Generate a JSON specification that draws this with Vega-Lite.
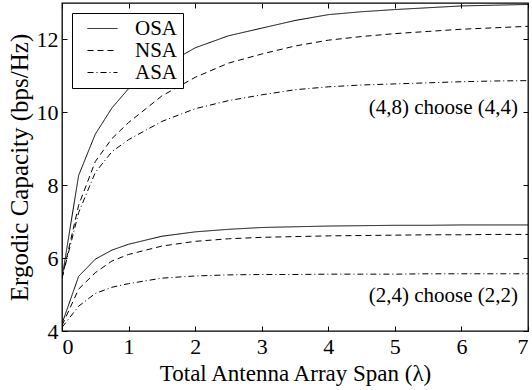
{
  "$schema": "https://vega.github.io/schema/vega-lite/v6.json",
  "width": 466,
  "height": 328,
  "autosize": "none",
  "padding": {"left": 62, "top": 3, "right": 4, "bottom": 59},
  "config": {
    "view": {"stroke": "black", "strokeWidth": 1.3},
    "font": "Liberation Serif"
  },
  "datasets": {
    "curves": [
      {"x": 0, "cap": 5.45, "scheme": "OSA", "cfg": "48"},
      {"x": 0.25, "cap": 8.27, "scheme": "OSA", "cfg": "48"},
      {"x": 0.5, "cap": 9.4, "scheme": "OSA", "cfg": "48"},
      {"x": 0.75, "cap": 10.12, "scheme": "OSA", "cfg": "48"},
      {"x": 1, "cap": 10.65, "scheme": "OSA", "cfg": "48"},
      {"x": 1.5, "cap": 11.25, "scheme": "OSA", "cfg": "48"},
      {"x": 2, "cap": 11.77, "scheme": "OSA", "cfg": "48"},
      {"x": 2.5, "cap": 12.1, "scheme": "OSA", "cfg": "48"},
      {"x": 3, "cap": 12.31, "scheme": "OSA", "cfg": "48"},
      {"x": 3.5, "cap": 12.52, "scheme": "OSA", "cfg": "48"},
      {"x": 4, "cap": 12.68, "scheme": "OSA", "cfg": "48"},
      {"x": 4.5, "cap": 12.76, "scheme": "OSA", "cfg": "48"},
      {"x": 5, "cap": 12.82, "scheme": "OSA", "cfg": "48"},
      {"x": 5.5, "cap": 12.87, "scheme": "OSA", "cfg": "48"},
      {"x": 6, "cap": 12.92, "scheme": "OSA", "cfg": "48"},
      {"x": 6.5, "cap": 12.94, "scheme": "OSA", "cfg": "48"},
      {"x": 7, "cap": 12.96, "scheme": "OSA", "cfg": "48"},
      {"x": 0, "cap": 5.45, "scheme": "NSA", "cfg": "48"},
      {"x": 0.25, "cap": 7.45, "scheme": "NSA", "cfg": "48"},
      {"x": 0.5, "cap": 8.65, "scheme": "NSA", "cfg": "48"},
      {"x": 0.75, "cap": 9.28, "scheme": "NSA", "cfg": "48"},
      {"x": 1, "cap": 9.72, "scheme": "NSA", "cfg": "48"},
      {"x": 1.5, "cap": 10.45, "scheme": "NSA", "cfg": "48"},
      {"x": 2, "cap": 10.96, "scheme": "NSA", "cfg": "48"},
      {"x": 2.5, "cap": 11.35, "scheme": "NSA", "cfg": "48"},
      {"x": 3, "cap": 11.6, "scheme": "NSA", "cfg": "48"},
      {"x": 3.5, "cap": 11.82, "scheme": "NSA", "cfg": "48"},
      {"x": 4, "cap": 11.98, "scheme": "NSA", "cfg": "48"},
      {"x": 4.5, "cap": 12.08, "scheme": "NSA", "cfg": "48"},
      {"x": 5, "cap": 12.16, "scheme": "NSA", "cfg": "48"},
      {"x": 5.5, "cap": 12.22, "scheme": "NSA", "cfg": "48"},
      {"x": 6, "cap": 12.28, "scheme": "NSA", "cfg": "48"},
      {"x": 6.5, "cap": 12.32, "scheme": "NSA", "cfg": "48"},
      {"x": 7, "cap": 12.36, "scheme": "NSA", "cfg": "48"},
      {"x": 0, "cap": 5.45, "scheme": "ASA", "cfg": "48"},
      {"x": 0.25, "cap": 7.25, "scheme": "ASA", "cfg": "48"},
      {"x": 0.5, "cap": 8.35, "scheme": "ASA", "cfg": "48"},
      {"x": 0.75, "cap": 8.92, "scheme": "ASA", "cfg": "48"},
      {"x": 1, "cap": 9.25, "scheme": "ASA", "cfg": "48"},
      {"x": 1.5, "cap": 9.75, "scheme": "ASA", "cfg": "48"},
      {"x": 2, "cap": 10.1, "scheme": "ASA", "cfg": "48"},
      {"x": 2.5, "cap": 10.32, "scheme": "ASA", "cfg": "48"},
      {"x": 3, "cap": 10.48, "scheme": "ASA", "cfg": "48"},
      {"x": 3.5, "cap": 10.62, "scheme": "ASA", "cfg": "48"},
      {"x": 4, "cap": 10.7, "scheme": "ASA", "cfg": "48"},
      {"x": 4.5, "cap": 10.75, "scheme": "ASA", "cfg": "48"},
      {"x": 5, "cap": 10.78, "scheme": "ASA", "cfg": "48"},
      {"x": 5.5, "cap": 10.81, "scheme": "ASA", "cfg": "48"},
      {"x": 6, "cap": 10.84, "scheme": "ASA", "cfg": "48"},
      {"x": 6.5, "cap": 10.86, "scheme": "ASA", "cfg": "48"},
      {"x": 7, "cap": 10.87, "scheme": "ASA", "cfg": "48"},
      {"x": 0, "cap": 4.2, "scheme": "OSA", "cfg": "24"},
      {"x": 0.25, "cap": 5.5, "scheme": "OSA", "cfg": "24"},
      {"x": 0.5, "cap": 5.97, "scheme": "OSA", "cfg": "24"},
      {"x": 0.75, "cap": 6.22, "scheme": "OSA", "cfg": "24"},
      {"x": 1, "cap": 6.38, "scheme": "OSA", "cfg": "24"},
      {"x": 1.5, "cap": 6.6, "scheme": "OSA", "cfg": "24"},
      {"x": 2, "cap": 6.72, "scheme": "OSA", "cfg": "24"},
      {"x": 2.5, "cap": 6.79, "scheme": "OSA", "cfg": "24"},
      {"x": 3, "cap": 6.84, "scheme": "OSA", "cfg": "24"},
      {"x": 3.5, "cap": 6.86, "scheme": "OSA", "cfg": "24"},
      {"x": 4, "cap": 6.88, "scheme": "OSA", "cfg": "24"},
      {"x": 4.5, "cap": 6.89, "scheme": "OSA", "cfg": "24"},
      {"x": 5, "cap": 6.9, "scheme": "OSA", "cfg": "24"},
      {"x": 5.5, "cap": 6.9, "scheme": "OSA", "cfg": "24"},
      {"x": 6, "cap": 6.91, "scheme": "OSA", "cfg": "24"},
      {"x": 6.5, "cap": 6.91, "scheme": "OSA", "cfg": "24"},
      {"x": 7, "cap": 6.91, "scheme": "OSA", "cfg": "24"},
      {"x": 0, "cap": 4.15, "scheme": "NSA", "cfg": "24"},
      {"x": 0.25, "cap": 5.15, "scheme": "NSA", "cfg": "24"},
      {"x": 0.5, "cap": 5.6, "scheme": "NSA", "cfg": "24"},
      {"x": 0.75, "cap": 5.92, "scheme": "NSA", "cfg": "24"},
      {"x": 1, "cap": 6.1, "scheme": "NSA", "cfg": "24"},
      {"x": 1.5, "cap": 6.33, "scheme": "NSA", "cfg": "24"},
      {"x": 2, "cap": 6.46, "scheme": "NSA", "cfg": "24"},
      {"x": 2.5, "cap": 6.53, "scheme": "NSA", "cfg": "24"},
      {"x": 3, "cap": 6.57, "scheme": "NSA", "cfg": "24"},
      {"x": 3.5, "cap": 6.59, "scheme": "NSA", "cfg": "24"},
      {"x": 4, "cap": 6.61, "scheme": "NSA", "cfg": "24"},
      {"x": 4.5, "cap": 6.62, "scheme": "NSA", "cfg": "24"},
      {"x": 5, "cap": 6.63, "scheme": "NSA", "cfg": "24"},
      {"x": 5.5, "cap": 6.64, "scheme": "NSA", "cfg": "24"},
      {"x": 6, "cap": 6.64, "scheme": "NSA", "cfg": "24"},
      {"x": 6.5, "cap": 6.65, "scheme": "NSA", "cfg": "24"},
      {"x": 7, "cap": 6.65, "scheme": "NSA", "cfg": "24"},
      {"x": 0, "cap": 4.1, "scheme": "ASA", "cfg": "24"},
      {"x": 0.25, "cap": 4.68, "scheme": "ASA", "cfg": "24"},
      {"x": 0.5, "cap": 5.03, "scheme": "ASA", "cfg": "24"},
      {"x": 0.75, "cap": 5.2, "scheme": "ASA", "cfg": "24"},
      {"x": 1, "cap": 5.3, "scheme": "ASA", "cfg": "24"},
      {"x": 1.5, "cap": 5.45, "scheme": "ASA", "cfg": "24"},
      {"x": 2, "cap": 5.51, "scheme": "ASA", "cfg": "24"},
      {"x": 2.5, "cap": 5.54, "scheme": "ASA", "cfg": "24"},
      {"x": 3, "cap": 5.55, "scheme": "ASA", "cfg": "24"},
      {"x": 3.5, "cap": 5.55, "scheme": "ASA", "cfg": "24"},
      {"x": 4, "cap": 5.56, "scheme": "ASA", "cfg": "24"},
      {"x": 4.5, "cap": 5.56, "scheme": "ASA", "cfg": "24"},
      {"x": 5, "cap": 5.56, "scheme": "ASA", "cfg": "24"},
      {"x": 5.5, "cap": 5.57, "scheme": "ASA", "cfg": "24"},
      {"x": 6, "cap": 5.57, "scheme": "ASA", "cfg": "24"},
      {"x": 6.5, "cap": 5.57, "scheme": "ASA", "cfg": "24"},
      {"x": 7, "cap": 5.57, "scheme": "ASA", "cfg": "24"}
    ],
    "notes": [
      {"x": 6.85, "cap": 10.12, "label": "(4,8) choose (4,4)"},
      {"x": 6.85, "cap": 4.95, "label": "(2,4) choose (2,2)"}
    ]
  },
  "layer": [
    {
      "data": {"name": "curves"},
      "mark": {"type": "line", "color": "black", "strokeWidth": 1, "clip": true},
      "encoding": {
        "x": {"field": "x", "type": "quantitative", "scale": {"domain": [0, 7], "nice": false, "zero": false},
              "axis": {"orient": "bottom", "values": [0,1,2,3,4,5,6,7], "format": "d", "title": "Total Antenna Array Span (λ)", "grid": false, "domain": false, "tickColor": "black", "tickSize": -5, "labelColor": "black", "titleColor": "black", "labelFont": "Liberation Serif", "titleFont": "Liberation Serif", "labelFontSize": 22, "titleFontSize": 23, "titleFontWeight": "normal", "labelPadding": 10, "titlePadding": 5}},
        "y": {"field": "cap", "type": "quantitative", "scale": {"domain": [4, 13], "nice": false, "zero": false},
              "axis": {"orient": "left", "values": [4,6,8,10,12], "format": "d", "title": "Ergodic Capacity (bps/Hz)", "grid": false, "domain": false, "tickColor": "black", "tickSize": -5, "labelColor": "black", "titleColor": "black", "labelFont": "Liberation Serif", "titleFont": "Liberation Serif", "labelFontSize": 22, "titleFontSize": 25, "titleFontWeight": "normal", "labelPadding": 9, "titlePadding": 4}},
        "strokeDash": {"field": "scheme", "type": "nominal",
          "scale": {"domain": ["OSA", "NSA", "ASA"], "range": [[1, 0], [6, 4], [6, 3, 1, 3]]},
          "legend": {"title": null, "orient": "none", "legendX": 10, "legendY": 10, "strokeColor": "black", "fillColor": "white", "padding": 5, "symbolOffset": 15, "symbolType": "M-3,0H3", "symbolSize": 100, "symbolStrokeColor": "black", "symbolStrokeWidth": 1, "rowPadding": 0, "labelOffset": 22, "labelFont": "Liberation Serif", "labelFontSize": 21, "labelColor": "black", "labelExpr": "datum.label + ' '", "cornerRadius": 0}},
        "detail": {"field": "cfg", "type": "nominal"}
      }
    },
    {
      "data": {"name": "notes"},
      "mark": {"type": "text", "align": "right", "baseline": "middle", "font": "Liberation Serif", "fontSize": 21, "color": "black"},
      "encoding": {
        "x": {"field": "x", "type": "quantitative", "axis": {"orient": "top", "values": [0,1,2,3,4,5,6,7], "labels": false, "title": null, "grid": false, "domain": false, "tickColor": "black", "tickSize": -5}},
        "y": {"field": "cap", "type": "quantitative", "axis": {"orient": "right", "values": [4,6,8,10,12], "labels": false, "title": null, "grid": false, "domain": false, "tickColor": "black", "tickSize": -5}},
        "text": {"field": "label"}
      }
    }
  ]
}
